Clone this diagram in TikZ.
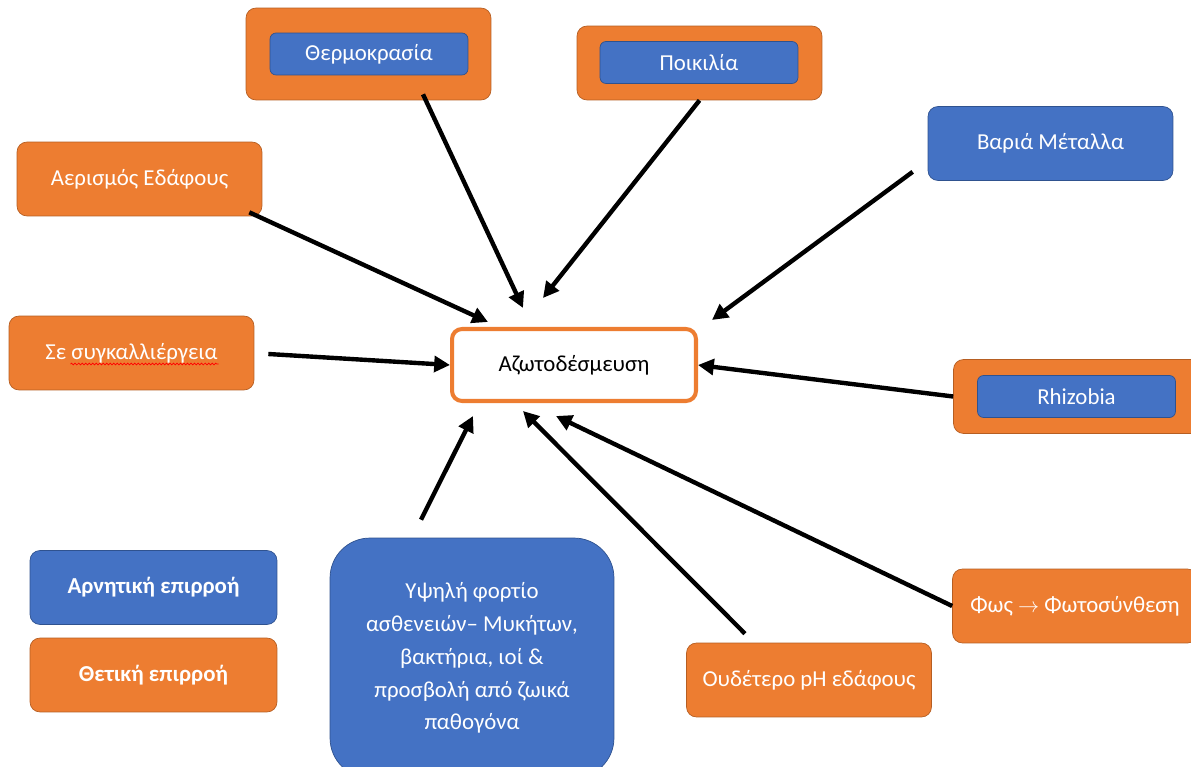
\documentclass[tikz,border=0pt]{standalone}
\usepackage{fontspec}
\setmainfont{Carlito}
\usepackage{tikz}
\usetikzlibrary{shapes,arrows.meta,calc,decorations.pathmorphing}
\definecolor{offorange}{HTML}{ED7D31}
\definecolor{offorangedark}{HTML}{B65E22}
\definecolor{offblue}{HTML}{4472C4}
\definecolor{offbluedark}{HTML}{2F528F}
\tikzstyle{posbox}=[draw=offorangedark, fill=offorange, text=white, 
    minimum width=4.9cm, minimum height=1.48cm, rounded corners=0.2cm,
    font=\fontsize{13}{16}\selectfont]
\tikzstyle{negbox} = [posbox, draw=offbluedark, fill=offblue]
\tikzstyle{innerbox} = [negbox, minimum width=3.96cm, minimum height=0.84cm, 
    rounded corners=0.12cm]
\tikzstyle{fixation}=[draw=offorange, line width=2.3pt, fill=white, 
    minimum width=4.88cm, minimum height=1.44cm, rounded corners=0.2cm,
    font=\fontsize{13}{16}\selectfont]
\tikzstyle{influence}=[->, line width=2.5pt]

\begin{document}
\begin{tikzpicture}[x=0.02cm, y=-0.02cm, >={Triangle[length=9pt,width=9pt]}]
\useasboundingbox (0,0) rectangle (1191,767);
% Nitrogen fixation
\path (574,365) node [fixation] (fix) {Αζωτοδέσμευση};
% Temperature
\path (368.5,54) node [posbox, minimum height=1.84cm] (thermo) {};
\path (369,54) node [innerbox] (thermoin) {Θερμοκρασία};
% Variety
\path (699.5,63) node [posbox] (var) {};
\path (699,62.5) node [innerbox] (varin) {Ποικιλία};
% Soil aeration
\path (139.5,179) node [posbox] (aer) {Αερισμός Εδάφους};
% Intercropping
\path (131.5,353) node [posbox] (inter) {Σε συγκαλλιέργεια};
\draw [red, line width=0.4pt, decorate, decoration={snake, amplitude=0.5pt, segment length=2pt}]
    ($(inter.center)+(-61,11)$) -- ($(inter.center)+(87,11)$);
% Heavy metals
\path (1050.5,143.5) node [negbox] (metal) {Βαριά Μέταλλα};
% Rhizobia
\path (1077,396.5) node [posbox, minimum width=4.94cm] (rhiz) {};
\path (1076.5,396.5) node [innerbox] (rhizin) {Rhizobia};
% Light
\path (1075,606) node [posbox] (light) {Φως $\rightarrow$ Φωτοσύνθεση};
% Neutral pH
\path (809,680) node [posbox] (ph) {Ουδέτερο pH εδάφους};
% Diseases
\path (472,658) node [negbox, minimum width=5.68cm, minimum height=4.8cm, 
    rounded corners=0.8cm, align=center, font=\fontsize{13}{18.7}\selectfont] (dis) 
    {Υψηλή φορτίο\\ασθενειών– Μυκήτων,\\βακτήρια, ιοί \&\\προσβολή από ζωικά\\παθογόνα};
% Legend
\path (153.5,587.5) node [negbox, minimum width=4.94cm, font=\fontsize{13}{16}\selectfont\bfseries] (neg) {Αρνητική επιρροή};
\path (153.5,675) node [posbox, minimum width=4.94cm, font=\fontsize{13}{16}\selectfont\bfseries] (pos) {Θετική επιρροή};
% arrows
\draw [influence] ($(thermo.south)+(54.5,-6)$) -- ($(fix.north)+(-51,-19)$);
\draw [influence] (var.south) -- ($(fix.north)+(-31,-29)$);
\draw [influence] ($(aer.south east)+(-13,-4)$) -- ($(fix.north west)+(38,-5)$);
\draw [influence] ($(inter.east)+(14,1)$) -- (fix.west);
\draw [influence] ($(metal.south west)+(-15,-9)$) -- ($(fix.north east)+(14,-7)$);
\draw [influence] (rhiz.west) -- (fix.east);
\draw [influence] (light.west) -- ($(fix.south)+(-18,13)$);
\draw [influence] ($(ph.north)+(-64,-9)$) -- ($(fix.south)+(-51,8)$);
\draw [influence] ($(dis.north)+(-51,-18)$) -- ($(fix.south)+(-101,13)$);
\end{tikzpicture}
\end{document}
